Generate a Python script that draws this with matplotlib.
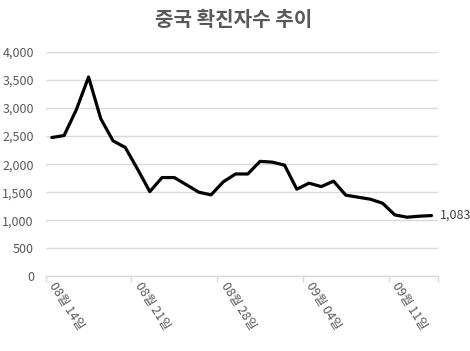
import numpy as np
import pandas as pd
import matplotlib
matplotlib.use('Agg')
import matplotlib.pyplot as plt

plt.rcParams['font.family'] = ['Noto Sans CJK KR', 'DejaVu Sans']

# 일별 확진자수
dates = pd.date_range('2020-08-14', '2020-09-14', freq='D')
cases = [2475, 2511, 2970, 3554, 2809, 2416, 2297, 1911, 1511, 1761,
         1761, 1631, 1500, 1452, 1685, 1825, 1825, 2050, 2036, 1982,
         1554, 1661, 1600, 1697, 1447, 1411, 1375, 1304, 1095, 1054,
         1072, 1083]
yticks = [0, 500, 1000, 1500, 2000, 2500, 3000, 3500, 4000]
title = '중국 확진자수 추이'

grid_col = '#d9d9d9'
text_col = '#595959'

fig = plt.figure(figsize=(4.7, 3.51), dpi=100)
ax = fig.add_axes([0.0972, 0.2128, 0.8340, 0.6390])

x = np.arange(len(cases))
ax.plot(x, cases, color='black', lw=2.3, solid_joinstyle='round', solid_capstyle='round')

ax.set_xlim(-0.5, len(cases) - 0.5)
ax.set_ylim(0, 4000)
ax.set_yticks(yticks)
ax.set_yticklabels([f'{v:,}' for v in yticks])
ax.tick_params(axis='y', length=0, pad=8.5, labelsize=9, labelcolor=text_col)
ax.yaxis.grid(True, color=grid_col, lw=1)
ax.set_axisbelow(True)

# x축: 7일 간격 눈금, 라벨은 회전
lab_idx = list(range(0, len(cases), 7))
ax.set_xticks([i - 0.5 for i in lab_idx] + [len(cases) - 0.5])
ax.set_xticklabels([])
ax.tick_params(axis='x', length=4, color=grid_col, width=1)
ax.set_xticks(lab_idx, minor=True)
ax.set_xticklabels([dates[i].strftime('%m월 %d일') for i in lab_idx], minor=True)
ax.tick_params(axis='x', which='minor', length=0, pad=5, labelsize=9, labelcolor=text_col)
for lab in ax.get_xticklabels(minor=True):
    lab.set_rotation(-57)
    lab.set_rotation_mode('anchor')
    lab.set_ha('left')
    lab.set_va('center')

for s in ['top', 'right', 'left']:
    ax.spines[s].set_visible(False)
ax.spines['bottom'].set_color(grid_col)
ax.spines['bottom'].set_linewidth(1)

ax.annotate(f'{cases[-1]:,}', xy=(x[-1], cases[-1]), xytext=(6, 0),
            textcoords='offset points', ha='left', va='center',
            fontsize=9, color='#404040', annotation_clip=False)

fig.text(0.497, 1 - 20 / 351, title, ha='center', va='center',
         fontsize=14.5, fontweight='bold', color=text_col)

fig.savefig('out.png', dpi=100)
